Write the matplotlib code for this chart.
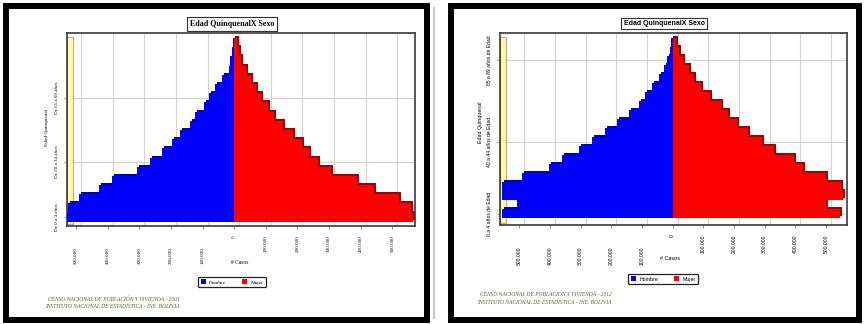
import matplotlib.pyplot as plt
from matplotlib.patches import Rectangle
from matplotlib.lines import Line2D
from matplotlib.transforms import ScaledTranslation

W, H, DPI = 865, 324, 100

# ---------------- DATA (personas por grupo quinquenal, 0-4 ... 95-99) ----------------
hombre_2001 = [530000, 526000, 492000, 429000, 387000, 308000, 266000, 229000, 197000, 171000,
               139000, 123000, 97000, 81000, 60000, 39000, 18000, 13000, 7000, 3000]
mujer_2001 = [565000, 559000, 522000, 443000, 390000, 306000, 264000, 237000, 216000, 185000,
              153000, 127000, 106000, 84000, 69000, 53000, 37000, 21000, 15000, 10000]

hombre_2012 = [557000, 508000, 557000, 557000, 492000, 404000, 360000, 306000, 263000, 220000,
               181000, 143000, 111000, 89000, 67000, 46000, 29000, 19000, 10000, 5000]
mujer_2012 = [545000, 500000, 555000, 548000, 500000, 425000, 395000, 330000, 290000, 245000,
              210000, 180000, 157000, 120000, 92000, 70000, 54000, 33000, 20000, 12000]

ytick_pos_2001 = [0, 6, 13]
ytick_lbl_2001 = ["De 0 a 4 años", "De 30 a 34 años", "De 65 a 69 años"]
ytick_pos_2012 = [0, 8, 17]
ytick_lbl_2012 = ["0 a 4 años de Edad", "40 a 44 años de Edad", "85 a 89 años de Edad"]

xticks = [-500000, -400000, -300000, -200000, -100000, 0, 100000, 200000, 300000, 400000, 500000]

titulo = "Edad QuinquenalX Sexo"
pie_2001 = ["CENSO NACIONAL DE POBLACIÓN Y VIVIENDA - 2001",
            "INSTITUTO NACIONAL DE ESTADÍSTICA - INE. BOLIVIA"]
pie_2012 = ["CENSO NACIONAL DE POBLACIÓN Y VIVIENDA - 2012",
            "INSTITUTO NACIONAL DE ESTADÍSTICA - INE. BOLIVIA"]
# -------------------------------------------------------------------------------------

fig = plt.figure(figsize=(W / DPI, H / DPI), dpi=DPI)


def box_px(x0, y0, x1, y1):
    return [x0 / W, 1 - y1 / H, (x1 - x0) / W, (y1 - y0) / H]


def fxy(x, y):
    return x / W, 1 - y / H


def miles(v):
    return f"{abs(v):,}".replace(",", ".")


def px(dx, dy):
    return ScaledTranslation(dx / DPI, dy / DPI, fig.dpi_scale_trans)


def panel(rect, hombre, mujer, ypos, ylbl, xlim, ylim, fam, tsize, frame, title_xy,
          xlab_xy, ylab_xy, leg_xy, pie, pie_xy):
    # black outer frame
    fig.patches.append(Rectangle(fxy(frame[0], frame[3]), (frame[2] - frame[0]) / W,
                                 (frame[3] - frame[1]) / H, transform=fig.transFigure,
                                 fill=False, ec="black", lw=4.3))
    ax = fig.add_axes(box_px(*rect))
    y = list(range(len(hombre)))
    neg = [-v for v in hombre]

    # 3D depth imitation: darker copy shifted up/right
    sb = ax.barh(y, neg, height=1.0, color="#0000B0", lw=0, zorder=2)
    sr = ax.barh(y, mujer, height=1.0, color="#A00000", lw=0, zorder=2)
    for p in list(sb) + list(sr):
        p.set_transform(ax.transData + px(2, 2))
    ax.barh(y, neg, height=1.0, color="#0000FF", lw=0, zorder=3, label="Hombre")
    ax.barh(y, mujer, height=1.0, color="#FF0000", lw=0, zorder=3, label="Mujer")

    ax.set_xlim(*xlim)
    ax.set_ylim(*ylim)
    ax.set_xticks(xticks)
    ax.set_xticklabels([miles(v) for v in xticks], family=fam)
    ax.set_yticks(ypos)
    ax.set_yticklabels(ylbl, family=fam, rotation=90, va="center")
    ax.tick_params(axis="x", length=2, width=0.5, color="#666666", pad=4.5,
                   labelsize=3.6, labelrotation=90)
    ax.tick_params(axis="y", length=2, width=0.5, color="#666666", pad=3.5, labelsize=3.6)
    ax.grid(True, color="#D2D2D2", lw=0.8)
    ax.set_axisbelow(True)
    for s in ax.spines.values():
        s.set_color("#3A3A3A")
        s.set_linewidth(1.2)

    # left wall
    ax.add_patch(Rectangle((0, 0.01), 6 / (rect[2] - rect[0]), 0.97, transform=ax.transAxes,
                           fc="#FFF6A8", ec="#8A8A70", lw=0.5, zorder=1))

    ax.set_xlabel("# Casos", fontsize=4, family=fam)
    ax.xaxis.set_label_coords((xlab_xy[0] - rect[0]) / (rect[2] - rect[0]),
                              (rect[3] - xlab_xy[1]) / (rect[3] - rect[1]))
    ax.xaxis.label.set_va("center")
    ax.set_ylabel("Edad Quinquenal", fontsize=3.8, family=fam)
    ax.yaxis.set_label_coords((ylab_xy[0] - rect[0]) / (rect[2] - rect[0]),
                              (rect[3] - ylab_xy[1]) / (rect[3] - rect[1]))
    ax.yaxis.label.set_va("center")

    fig.text(*fxy(*title_xy), titulo, ha="center", va="center", fontsize=tsize,
             fontweight="bold", family=fam,
             bbox=dict(boxstyle="square,pad=0.35", fc="white", ec="#333333", lw=0.8))

    leg = ax.legend(loc="center", bbox_to_anchor=fxy(*leg_xy), bbox_transform=fig.transFigure,
                    ncol=2, prop={"family": fam, "size": 3.8},
                    handlelength=1.0, handleheight=1.0, handletextpad=0.6,
                    columnspacing=3.0, borderpad=0.5, fancybox=True, framealpha=1)
    leg.get_frame().set_edgecolor("#222222")
    leg.get_frame().set_linewidth(0.9)

    for i, line in enumerate(pie):
        fig.text(*fxy(pie_xy[i][0], pie_xy[i][1]), line, ha="left", va="center",
                 fontsize=4.0, style="italic", color="#4F6B2A", family="Liberation Serif")

    # grid on the back wall, labels of the negative side lower
    for g in ax.get_xgridlines():
        g.set_transform(g.get_transform() + px(5, 0))
    for lbl, v in zip(ax.get_xticklabels(), xticks):
        if v < 0:
            lbl.set_transform(lbl.get_transform() + px(0, -12))
    return ax


panel((67, 33, 415, 226), hombre_2001, mujer_2001, ytick_pos_2001, ytick_lbl_2001,
      (-529000, 572000), (-0.95, 20.05), "Liberation Serif", 5.8, (6, 6, 427, 320),
      (232, 24), (240, 262), (47, 127), (232, 282), pie_2001,
      [(48, 299), (45, 306)])

panel((500, 33, 847, 225), hombre_2012, mujer_2012, ytick_pos_2012, ytick_lbl_2012,
      (-563000, 568000), (-1.25, 20.05), "Liberation Sans", 5.0, (451, 6, 859, 320),
      (664, 23.5), (670, 258), (480, 122), (663, 279), pie_2012,
      [(480, 294), (477, 302)])

fig.lines.append(Line2D([434 / W, 434 / W], [1 - 8 / H, 1 - 318 / H], transform=fig.transFigure,
                        color="#C8C8C8", lw=1.5))

fig.savefig("out.png", dpi=DPI)
